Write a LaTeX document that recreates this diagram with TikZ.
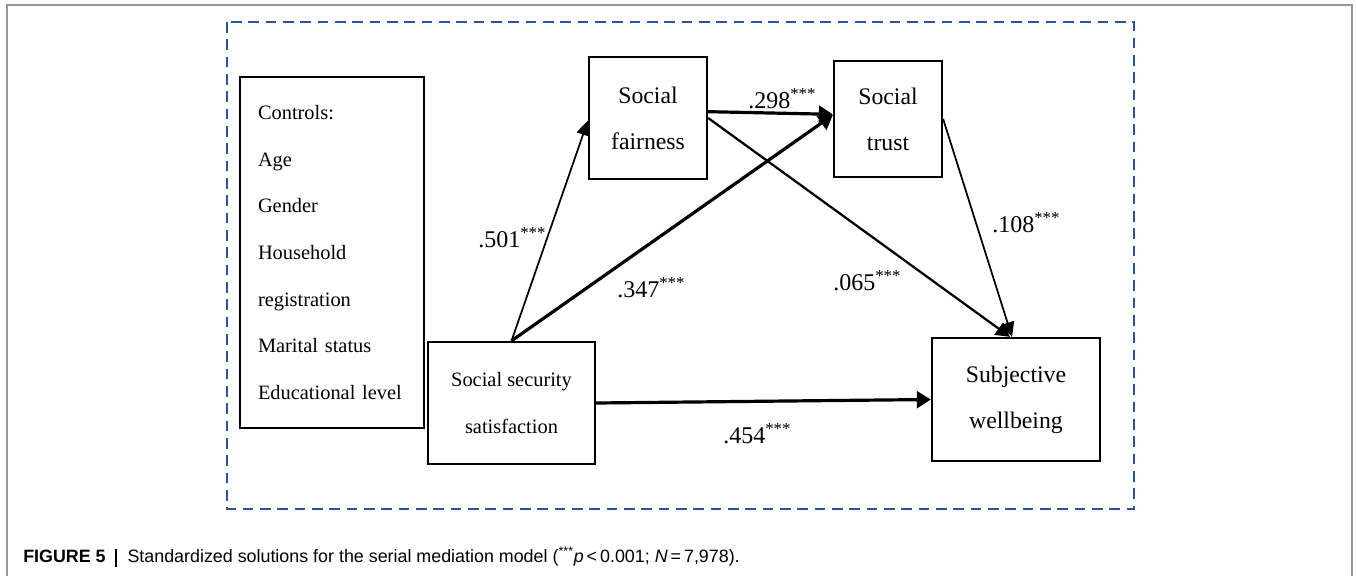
\documentclass[tikz,border=0pt]{standalone}
\usepackage{fontspec}
\setmainfont{Liberation Serif}
\newfontfamily\capfont{Liberation Sans}
\usetikzlibrary{arrows.meta}
\definecolor{dashblue}{RGB}{44,82,158}
\definecolor{framegray}{RGB}{150,150,150}
\begin{document}
\begin{tikzpicture}[x=0.75pt,y=-0.75pt,
  box/.style={draw, line width=1.7pt, inner sep=0pt, align=center},
  bigtxt/.style={font=\fontsize{17.8}{34.5}\selectfont},
  smalltxt/.style={font=\fontsize{15.3}{35}\selectfont},
  lbl/.style={inner sep=0pt, anchor=base west, font=\fontsize{18}{20}\selectfont},
  heavyarr/.style={line width=2.4pt, -{Triangle[length=10.5pt,width=12.5pt]}},
  midarr/.style={line width=1.7pt, -{Triangle[length=10.5pt,width=11pt]}},
  lightarr/.style={line width=1.3pt, -{Triangle[length=11pt,width=10pt]}}]
\useasboundingbox (0,0) rectangle (1356,575);
% outer frame
\draw[framegray, line width=0.8pt] (7,590) -- (7,5) -- (1352,5) -- (1352,590);
% dashed frame
\draw[dashblue, line width=1.5pt, dash pattern=on 8pt off 5pt] (227,22) rectangle (1134,509);
% boxes
\node[box, smalltxt, align=left, text width=111pt, inner xsep=13.5pt, minimum height=263.25pt] (ctrl) at (332,252.5)
  {Controls:\\Age\\Gender\\Household\\registration\\Marital status\\Educational level};
\node[box, smalltxt, minimum width=125.25pt, minimum height=91.5pt] (sss) at (511.5,403) {Social security\\satisfaction};
\node[box, bigtxt, minimum width=88.5pt, minimum height=91.5pt] (sf) at (648,118) {Social\\fairness};
\node[box, bigtxt, minimum width=81pt, minimum height=87pt] (st) at (888,119) {Social\\trust};
\node[box, bigtxt, minimum width=126pt, minimum height=92.25pt] (swb) at (1016,399.5) {Subjective\\wellbeing};
% arrows
\draw[lightarr] (sss.north) -- ([yshift=-2pt]sf.west);
\draw[heavyarr] (sss.north) -- ([yshift=3pt]st.west);
\draw[heavyarr] (sf.6) -- ([yshift=3.5pt]st.west);
\draw[midarr] (sf.east) -- ([xshift=-4.5pt]swb.north);
\draw[lightarr] (st.east) -- ([xshift=-3pt]swb.north);
\draw[heavyarr] (sss.east) -- (swb.west);
% labels
\node[lbl] (l501) at (478,247) {.501\textsuperscript{***}};
\node[lbl] (l347) at (617,297) {.347\textsuperscript{***}};
\node[lbl] (l298) at (748,108) {.298\textsuperscript{***}};
\node[lbl] (l108) at (992,232) {.108\textsuperscript{***}};
\node[lbl] (l065) at (833,290) {.065\textsuperscript{***}};
\node[lbl] (l454) at (723,443) {.454\textsuperscript{***}};
% caption
\node[anchor=base west, inner sep=0pt, font=\capfont\fontsize{13.4}{15}\selectfont] (cap) at (23,562)
  {\textbf{FIGURE 5}\hspace{7pt}\rule[-3.5pt]{1.4pt}{13pt}\hspace{8pt}Standardized solutions for the serial mediation model (\textsuperscript{***}\textit{p}\,<\,0.001; \textit{N}\,=\,7,978).};
\end{tikzpicture}
\end{document}
